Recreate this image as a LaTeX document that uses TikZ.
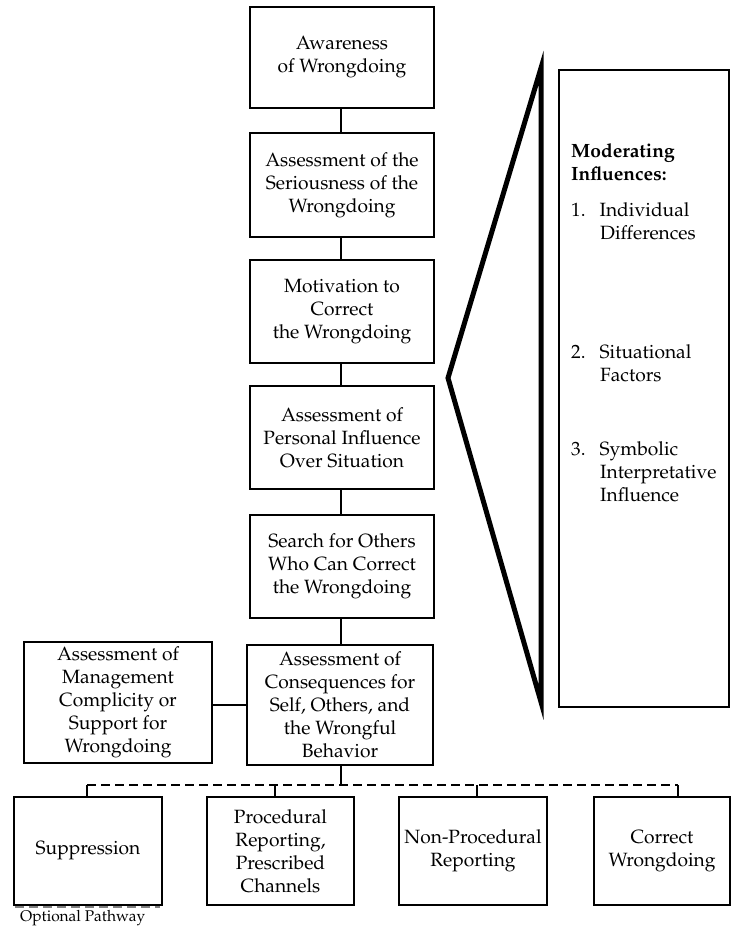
\documentclass[tikz,border=0pt]{standalone}
\usepackage[T1]{fontenc}
\usepackage{mathpazo}
\newcommand\bxfont{\fontsize{19.2}{23}\selectfont}
\newcommand\smfont{\fontsize{15.5}{17}\selectfont}
\begin{document}
\begin{tikzpicture}[x=1pt,y=-1pt,
  box/.style={draw, line width=1.4pt, align=center, inner sep=1pt, font=\bxfont},
  conn/.style={line width=1.3pt},
  dashline/.style={line width=1.5pt, dash pattern=on 9pt off 5pt},
  modtext/.style={anchor=north west, align=left, inner sep=0pt, font=\bxfont}]
\useasboundingbox (0,0) rectangle (731,926);
% main column
\node[box, minimum width=184pt, minimum height=101pt] (b1) at (342,57.5) {Awareness\\of Wrongdoing};
\node[box, minimum width=184pt, minimum height=104pt] (b2) at (342,185) {Assessment of the\\Seriousness of the\\Wrongdoing};
\node[box, minimum width=184pt, minimum height=103pt] (b3) at (342,311.5) {Motivation to\\Correct\\the Wrongdoing};
\node[box, minimum width=184pt, minimum height=103pt] (b4) at (342,437.5) {Assessment of\\Personal Influence\\Over Situation};
\node[box, minimum width=184pt, minimum height=103pt] (b5) at (342,566.5) {Search for Others\\Who Can Correct\\the Wrongdoing};
\node[box, minimum width=186pt, minimum height=120pt] (b6) at (340,705) {Assessment of\\Consequences for\\Self, Others, and\\the Wrongful\\Behavior};
\node[box, minimum width=188pt, minimum height=121pt] (lb) at (118,702.5) {Assessment of\\Management\\Complicity or\\Support for\\Wrongdoing};
% outcomes
\node[box, minimum width=148pt, minimum height=108pt] (s1) at (88,851) {Suppression};
\node[box, minimum width=147pt, minimum height=108pt] (s2) at (280.5,851) {Procedural\\Reporting,\\Prescribed\\Channels};
\node[box, minimum width=148pt, minimum height=108pt] (s3) at (473,851) {Non-Procedural\\Reporting};
\node[box, minimum width=136pt, minimum height=108pt] (s4) at (662,851) {Correct\\Wrongdoing};
% connectors
\draw[conn] (b1.south -| 341,0) -- (b2.north -| 341,0);
\draw[conn] (b2.south -| 341,0) -- (b3.north -| 341,0);
\draw[conn] (b3.south -| 341,0) -- (b4.north -| 341,0);
\draw[conn] (b4.south -| 341,0) -- (b5.north -| 341,0);
\draw[conn] (b5.south -| 341,0) -- (b6.north -| 341,0);
\draw[conn] (lb.east |- b6.west) -- (b6.west);
\coordinate (dm) at (341,785);
\coordinate (d1) at (87,785);
\coordinate (d2) at (275,785);
\coordinate (d3) at (477,785);
\coordinate (d4) at (678,785);
\draw[conn] (b6.south -| dm) -- (dm);
\draw[dashline] (d1) -- (d4);
\draw[conn] (d1) -- (d1 |- s1.north);
\draw[conn] (d2) -- (d2 |- s2.north);
\draw[conn] (d3) -- (d3 |- s3.north);
\draw[conn] (d4) -- (d4 |- s4.north);
% legend
\coordinate (la) at (15,907);
\coordinate (lz) at (160,907);
\draw[dashline, line width=1.3pt, gray] (la) -- (lz);
\node[anchor=north west, inner sep=0pt, font=\smfont] (leg) at (20,910) {Optional Pathway};
% triangle
\coordinate (tt) at (541,68);
\coordinate (ta) at (448,378);
\coordinate (tb) at (541,702);
\draw[line width=5pt, line join=miter] (tt) -- (ta) -- (tb) -- cycle;
% moderating box
\node[draw, line width=1.4pt, minimum width=170pt, minimum height=637pt, inner sep=0pt] (mb) at (644,388.5) {};
\node[modtext] (m0) at (571,143) {\bfseries Moderating\\\bfseries Influences:};
\node[modtext] (m1) at (571,202) {1.\hspace{14pt}Individual\\\hspace{29pt}Differences};
\node[modtext] (m2) at (571,344) {2.\hspace{14pt}Situational\\\hspace{29pt}Factors};
\node[modtext] (m3) at (571,441) {3.\hspace{14pt}Symbolic\\\hspace{29pt}Interpretative\\\hspace{29pt}Influence};
\end{tikzpicture}
\end{document}
